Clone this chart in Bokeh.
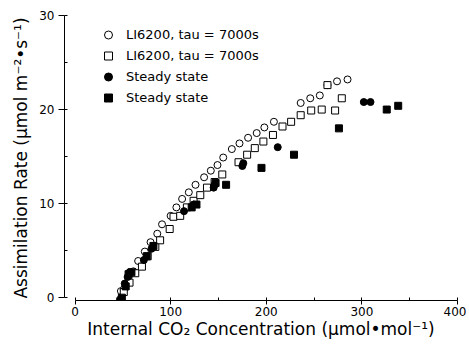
from bokeh.plotting import figure
from bokeh.models import Range1d, SingleIntervalTicker, Legend, LegendItem
from bokeh.embed import file_html
from bokeh.resources import INLINE

# Series 1: LI6200, tau = 7000s (open circles)
ci_open_c = [48, 51, 56, 61, 66, 73, 79, 86, 91, 100, 106, 112, 119, 126, 135, 142, 149, 155,
             164, 172, 181, 190, 198, 208, 236, 246, 256, 264, 274, 285]
a_open_c = [0.7, 0.9, 1.8, 2.8, 3.9, 4.9, 5.9, 6.8, 7.8, 8.7, 9.6, 10.5, 11.2, 12.0, 12.8, 13.5, 14.1, 14.9,
            15.8, 16.4, 17.0, 17.5, 18.1, 18.7, 20.7, 21.2, 21.5, 22.6, 23.0, 23.2]

# Series 2: LI6200, tau = 7000s (open squares)
ci_open_s = [51, 57, 63, 70, 76, 84, 89, 99, 103, 110, 117, 124, 131, 138, 146, 154, 171, 180,
             188, 197, 207, 217, 226, 236, 247, 258, 264, 272, 279]
a_open_s = [0.6, 1.6, 2.6, 3.3, 4.4, 5.4, 6.1, 7.3, 8.6, 8.7, 9.6, 10.3, 10.9, 11.7, 12.3, 13.1, 14.4, 15.2,
            15.9, 16.6, 17.3, 18.2, 18.7, 19.4, 19.9, 20.0, 22.6, 19.9, 21.2]

# Series 3: Steady state (filled circles)
ci_fill_c = [47, 52, 55, 57, 72, 80, 114, 124, 145, 146, 175, 176, 212, 302, 309]
a_fill_c = [-0.2, 1.5, 2.2, 2.7, 4.0, 5.2, 9.2, 9.9, 11.7, 12.0, 14.0, 14.3, 16.0, 20.8, 20.8]

# Series 4: Steady state (filled squares)
ci_fill_s = [49, 53, 56, 59, 75, 82, 122, 127, 147, 158, 195, 229, 276, 326, 338]
a_fill_s = [0.0, 1.2, 2.5, 2.7, 4.4, 5.5, 9.6, 9.9, 12.2, 12.0, 13.8, 15.2, 18.0, 20.0, 20.4]

labels = ["LI6200, tau = 7000s", "LI6200, tau = 7000s", "Steady state", "Steady state"]

FONT = "DejaVu Sans"

p = figure(width=466, height=344, output_backend="svg", toolbar_location=None,
           x_range=Range1d(-11, 400), y_range=Range1d(-0.3, 30),
           min_border_left=64, min_border_right=9, min_border_top=15, min_border_bottom=44)
p.outline_line_color = None
p.xgrid.visible = False
p.ygrid.visible = False
p.background_fill_color = "white"

r1 = p.scatter(ci_open_c, a_open_c, marker="circle", size=7, line_color="black",
               fill_color="white", line_width=1)
r2 = p.scatter(ci_open_s, a_open_s, marker="square", size=7, line_color="black",
               fill_color="white", line_width=1)
r3 = p.scatter(ci_fill_c, a_fill_c, marker="circle", size=7, line_color="black",
               fill_color="black", line_width=1)
r4 = p.scatter(ci_fill_s, a_fill_s, marker="square", size=7, line_color="black",
               fill_color="black", line_width=1)

for ax in (p.xaxis[0], p.yaxis[0]):
    ax.axis_line_color = "black"
    ax.major_tick_line_color = "black"
    ax.minor_tick_line_color = "black"
    ax.major_tick_in = 0
    ax.minor_tick_out = 0
    ax.minor_tick_in = 3
    ax.major_label_text_font = FONT
    ax.major_label_text_font_size = "12px"
    ax.major_label_text_color = "black"
    ax.axis_label_text_font = FONT
    ax.axis_label_text_font_size = "17px"
    ax.axis_label_text_font_style = "normal"
    ax.axis_label_text_color = "black"

p.xaxis[0].ticker = SingleIntervalTicker(interval=100, num_minor_ticks=2)
p.yaxis[0].ticker = SingleIntervalTicker(interval=10, num_minor_ticks=2)
p.xaxis[0].bounds = (0, 400)
p.yaxis[0].bounds = (0, 30)
p.xaxis[0].axis_label = "Internal CO\u2082 Concentration (\u03bcmol\u2022mol\u207b\u00b9)"
p.yaxis[0].axis_label = "Assimilation Rate (\u03bcmol m\u207b\u00b2\u2022s\u207b\u00b9)"
p.xaxis[0].major_tick_out = 4
p.yaxis[0].major_tick_out = 6
p.xaxis[0].major_label_standoff = 2
p.yaxis[0].major_label_standoff = 4
p.xaxis[0].axis_label_standoff = 0
p.yaxis[0].axis_label_standoff = 5

legend = Legend(items=[LegendItem(label=labels[0], renderers=[r1]),
                       LegendItem(label=labels[1], renderers=[r2]),
                       LegendItem(label=labels[2], renderers=[r3]),
                       LegendItem(label=labels[3], renderers=[r4])],
                location=(34, 192), padding=0, margin=0, spacing=0,
                glyph_width=20, glyph_height=21, label_height=21, label_standoff=8,
                label_text_font=FONT, label_text_font_size="13px", label_text_color="black",
                border_line_alpha=0, background_fill_alpha=0)
p.add_layout(legend)

open("out.html", "w").write(file_html(p, INLINE))
